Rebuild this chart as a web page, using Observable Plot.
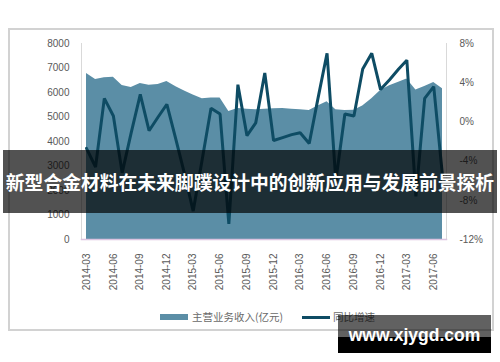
<!DOCTYPE html>
<html>
<head>
<meta charset="utf-8">
<script src="https://cdn.jsdelivr.net/npm/d3@7"></script>
<script src="https://cdn.jsdelivr.net/npm/@observablehq/plot@0.6"></script>
<style>
  html, body { margin: 0; padding: 0; background: #ffffff; }
  #wrap { position: relative; width: 500px; height: 362px; overflow: hidden; background: #fff; }
  #frame { position: absolute; left: 8px; top: 28px; width: 482px; height: 299px; border: 2px solid #d2d2d2; }
  #chart { position: absolute; left: 0; top: 0; }
  .legend { position: absolute; top: 309px; font-family: "Noto Sans CJK SC", sans-serif; font-size: 10.5px; color: #6a6a6a; line-height: 16px; white-space: nowrap; }
  .sw-area { position: absolute; left: 160px; top: 314px; width: 28px; height: 6px; background: #5b8ea6; }
  .sw-line { position: absolute; left: 302px; top: 316px; width: 28px; height: 3px; background: #0e4c64; }
  #banner { position: absolute; left: 3px; top: 150px; width: 494px; height: 63px; background: rgba(0,0,0,0.68); }
  #title { position: absolute; left: 3px; top: 150px; height: 63px; line-height: 63px; color: #fff; font-family: "Noto Sans CJK SC", sans-serif; font-weight: bold; font-size: 19px; white-space: nowrap; }
  #wm1 { position: absolute; left: 338px; top: 315px; width: 153px; height: 22px; background: rgba(0,0,0,0.62); }
  #wm2 { position: absolute; left: 338px; top: 337px; width: 153px; height: 16px; background: #000; }
  #wmtext { position: absolute; left: 338px; top: 324px; width: 153px; text-align: center; color: #fff; font-family: "Liberation Sans", Arial, sans-serif; font-weight: bold; font-size: 17.5px; line-height: 22px; }
</style>
</head>
<body>
<div id="wrap">
  <div id="frame"></div>
  <div id="chart"></div>
  <div class="sw-area"></div>
  <div class="legend" style="left:192px">主营业务收入(亿元)</div>
  <div class="sw-line"></div>
  <div class="legend" style="left:333px">同比增速</div>
  <div id="banner"></div>
  <div id="title">新型合金材料在未来脚蹼设计中的创新应用与发展前景探析</div>
  <div id="wm1"></div>
  <div id="wm2"></div>
  <div id="wmtext">www.xjygd.com</div>
</div>
<script>
// ---- data ----
const months = [
  "2014-03","2014-04","2014-05","2014-06","2014-07","2014-08","2014-09","2014-10","2014-11","2014-12",
  "2015-01","2015-02","2015-03","2015-04","2015-05","2015-06","2015-07","2015-08","2015-09","2015-10","2015-11","2015-12",
  "2016-01","2016-02","2016-03","2016-04","2016-05","2016-06","2016-07","2016-08","2016-09","2016-10","2016-11","2016-12",
  "2017-01","2017-02","2017-03","2017-04","2017-05","2017-06","2017-07"
];
// 主营业务收入(亿元), left axis
const revenue = [
  6780,6530,6600,6620,6290,6200,6370,6300,6330,6450,
  6230,6050,5900,5750,5780,5780,5220,5350,5320,5300,5320,5340,
  5350,5320,5300,5270,5450,5620,5300,5270,5280,5450,5750,6080,
  6280,6420,6550,6100,6250,6410,6150
];
// 同比增速 (%), right axis
const growth = [
  -2.7,-4.6,2.4,0.6,-5.2,-1.1,2.8,-0.9,0.5,1.8,
  -1.8,-5.5,-9.1,-3.8,1.4,0.8,-10.4,3.8,-1.4,-0.1,5.0,-1.9,
  -1.6,-1.3,-1.1,-2.2,2.4,7.0,-6.0,0.8,0.6,5.4,7.0,3.3,
  4.3,5.4,6.3,-7.6,2.4,3.6,-5.5
];
const xTickLabels = ["2014-03","2014-06","2014-09","2014-12","2015-03","2015-06","2015-09","2015-12","2016-03","2016-06","2016-09","2016-12","2017-03","2017-06"];
const leftTicks = [0,1000,2000,3000,4000,5000,6000,7000,8000];
const rightTicks = [-12,-8,-4,0,4,8];
const leftDomain = [0, 8000];
const rightDomain = [-12, 8];

// ---- build ----
const parse = d3.utcParse("%Y-%m");
const fmt = d3.utcFormat("%Y-%m");
const data = months.map((m, i) => ({date: parse(m), rev: revenue[i], g: growth[i]}));
// map right-axis percentages onto the left-axis scale
const k = (leftDomain[1] - leftDomain[0]) / (rightDomain[1] - rightDomain[0]);
const toLeft = p => (p - rightDomain[0]) * k + leftDomain[0];
const fromLeft = v => (v - leftDomain[0]) / k + rightDomain[0];

const chart = Plot.plot({
  width: 500,
  height: 362,
  marginTop: 43,
  marginBottom: 123,
  marginLeft: 81,
  marginRight: 54,
  insetLeft: 5,
  insetRight: 4,
  style: {fontFamily: "'Liberation Sans', Arial, sans-serif", fontSize: "10px", color: "#595959", background: "transparent", overflow: "visible"},
  x: {type: "utc", domain: [data[0].date, data[data.length - 1].date]},
  y: {domain: leftDomain},
  marks: [
    Plot.areaY(data, {x: "date", y: "rev", fill: "#5b8ea6"}),
    Plot.lineY(data, {x: "date", y: d => toLeft(d.g), stroke: "#0e4c64", strokeWidth: 3, strokeLinejoin: "miter"}),
    Plot.frame({anchor: "left", stroke: "#d9d9d9"}),
    Plot.frame({anchor: "right", stroke: "#d9d9d9"}),
    Plot.frame({anchor: "bottom", stroke: "#dcc4e0", strokeWidth: 1.5}),
    Plot.axisY(leftTicks, {anchor: "left", tickSize: 0, tickPadding: 12, label: null, tickFormat: d => String(d)}),
    Plot.axisY(rightTicks.map(toLeft), {anchor: "right", tickSize: 0, tickPadding: 13, label: null, tickFormat: d => Math.round(fromLeft(d)) + "%"}),
    Plot.axisX(xTickLabels.map(parse), {anchor: "bottom", tickRotate: -90, tickSize: 0, tickPadding: 14, label: null, tickFormat: fmt})
  ]
});
document.getElementById("chart").appendChild(chart);

// fit the title text inside the banner width (494px)
const title = document.getElementById("title");
let fs = 19;
while (title.getBoundingClientRect().width > 494 && fs > 12) {
  fs -= 0.2;
  title.style.fontSize = fs + "px";
}
title.style.left = (3 + (494 - title.getBoundingClientRect().width) / 2) + "px";
</script>
</body>
</html>
